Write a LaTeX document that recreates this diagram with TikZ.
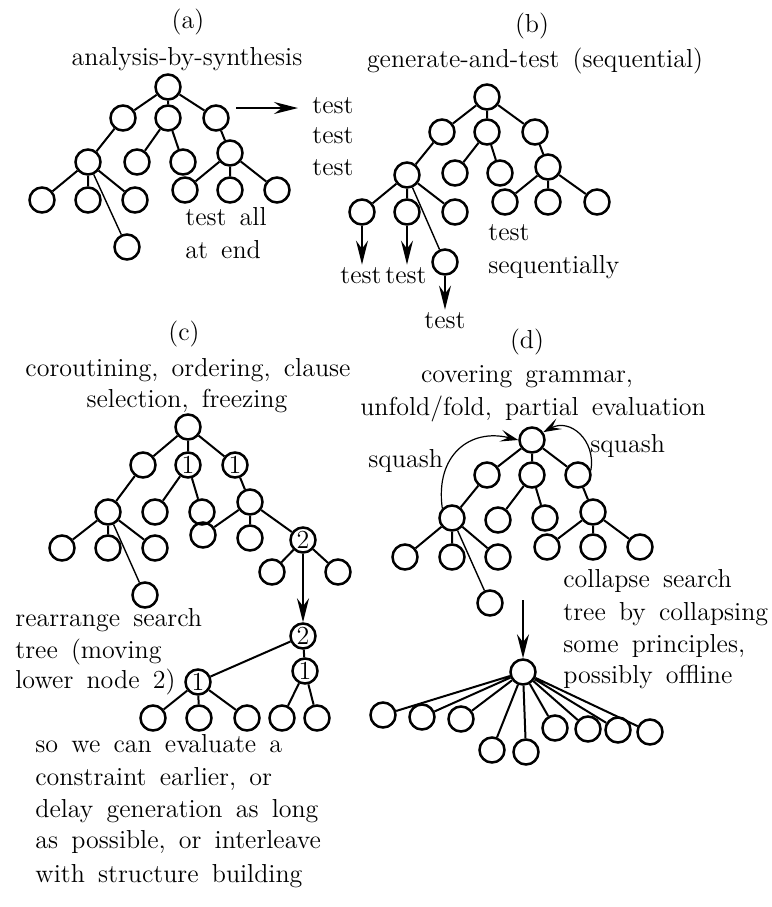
\documentclass[tikz,border=0pt]{standalone}
\usetikzlibrary{arrows.meta}
\begin{document}
\begin{tikzpicture}[x=0.5pt,y=-0.5pt,
  font={\fontsize{13}{16}\selectfont\spaceskip=6.6pt plus 1pt\relax},
  nd/.style={circle,draw,line width=1.25pt,minimum size=12.5pt,inner sep=0pt},
  ed/.style={line width=1pt},
  thinedge/.style={line width=0.7pt},
  arr/.style={line width=1pt,-{Stealth[length=12pt,width=6pt,inset=4pt]}},
  sqarr/.style={line width=0.6pt,-{Stealth[length=9pt,width=6pt,inset=4pt]}},
  lbl/.style={inner sep=0pt,anchor=base},
  lblw/.style={inner sep=0pt,anchor=base west}]
\useasboundingbox (0,0) rectangle (772,907);

% ---------------- (a) ----------------
\node[lbl] (la) at (188,28) {(a)};
\node[lbl] (ta) at (187,65) {analysis-by-synthesis};
\node[nd] (a0) at (168,87) {};
\node[nd] (a1) at (123,118) {};
\node[nd] (a2) at (168,118) {};
\node[nd] (a3) at (216,118) {};
\node[nd] (a11) at (88,162) {};
\node[nd] (a21) at (137,162) {};
\node[nd] (a22) at (183,162) {};
\node[nd] (a31) at (230,153) {};
\node[nd] (a111) at (42,200) {};
\node[nd] (a112) at (88,200) {};
\node[nd] (a113) at (135,200) {};
\node[nd] (a114) at (127,247) {};
\node[nd] (a311) at (185,190) {};
\node[nd] (a312) at (230,190) {};
\node[nd] (a313) at (277,190) {};
\draw[ed] (a0)--(a1) (a0)--(a2) (a0)--(a3) (a1)--(a11) (a2)--(a21) (a2)--(a22)
  (a3)--(a31) (a11)--(a111) (a11)--(a112) (a11)--(a113)
  (a31)--(a311) (a31)--(a312) (a31)--(a313);
\draw[thinedge] (a11)--(a114);
\coordinate (aS) at (236,108);
\coordinate (aE) at (298,108);
\draw[arr] (aS)--(aE);
\node[lblw] (at1) at (312,113) {test};
\node[lblw] (at2) at (312,143) {test};
\node[lblw] (at3) at (312,175) {test};
\node[lblw] (at4) at (185,225) {test all};
\node[lblw] (at5) at (185,258) {at end};

% ---------------- (b) ----------------
\node[lbl] (lb) at (532,32) {(b)};
\node[lbl] (tb) at (535,67) {generate-and-test (sequential)};
\node[nd] (b0) at (487,97) {};
\node[nd] (b1) at (442,132) {};
\node[nd] (b2) at (487,132) {};
\node[nd] (b3) at (535,132) {};
\node[nd] (b11) at (407,175) {};
\node[nd] (b21) at (455,173) {};
\node[nd] (b22) at (500,173) {};
\node[nd] (b31) at (548,167) {};
\node[nd] (b111) at (362,212) {};
\node[nd] (b112) at (407,212) {};
\node[nd] (b113) at (455,212) {};
\node[nd] (b114) at (445,262) {};
\node[nd] (b311) at (505,202) {};
\node[nd] (b312) at (548,202) {};
\node[nd] (b313) at (597,202) {};
\draw[ed] (b0)--(b1) (b0)--(b2) (b0)--(b3) (b1)--(b11) (b2)--(b21) (b2)--(b22)
  (b3)--(b31) (b11)--(b111) (b11)--(b112) (b11)--(b113)
  (b31)--(b311) (b31)--(b312) (b31)--(b313);
\draw[thinedge] (b11)--(b114);
\node[lbl,inner sep=1pt] (bt1) at (361,283) {test};
\node[lbl,inner sep=1pt] (bt2) at (406,283) {test};
\node[lbl,inner sep=1pt] (bt3) at (445,328) {test};
\draw[arr] (b111)--(b111 |- bt1.north);
\draw[arr] (b112)--(b112 |- bt2.north);
\draw[arr] (b114)--(b114 |- bt3.north);
\node[lblw] (bt4) at (488,240) {test};
\node[lblw] (bt5) at (488,273) {sequentially};

% ---------------- (c) ----------------
\node[lbl] (lc) at (184,340) {(c)};
\node[lbl] (tc1) at (188,376) {coroutining, ordering, clause};
\node[lbl] (tc2) at (187,407) {selection, freezing};
\node[nd] (c0) at (188,427) {};
\node[nd] (c1) at (143,465) {};
\node[nd] (c2) at (188,465) {1};
\node[nd] (c3) at (235,465) {1};
\node[nd] (c11) at (108,512) {};
\node[nd] (c21) at (155,512) {};
\node[nd] (c22) at (202,512) {};
\node[nd] (c31) at (250,502) {};
\node[nd] (c111) at (62,548) {};
\node[nd] (c112) at (108,548) {};
\node[nd] (c113) at (155,548) {};
\node[nd] (c114) at (145,595) {};
\node[nd] (c311) at (203,535) {};
\node[nd] (c312) at (250,538) {};
\node[nd] (c313) at (303,540) {2};
\node[nd] (c3131) at (272,572) {};
\node[nd] (c3132) at (338,572) {};
\draw[ed] (c0)--(c1) (c0)--(c2) (c0)--(c3) (c1)--(c11) (c2)--(c21) (c2)--(c22)
  (c3)--(c31) (c11)--(c111) (c11)--(c112) (c11)--(c113)
  (c31)--(c311) (c31)--(c312) (c31)--(c313) (c313)--(c3131) (c313)--(c3132);
\draw[thinedge] (c11)--(c114);
\node[nd] (e0) at (303,636) {2};
\node[nd] (e1) at (305,671) {1};
\node[nd] (e2) at (198,682) {1};
\node[nd] (e21) at (153,718) {};
\node[nd] (e22) at (199,718) {};
\node[nd] (e23) at (247,718) {};
\node[nd] (e11) at (282,718) {};
\node[nd] (e12) at (317,718) {};
\draw[arr] (c313)--(e0);
\draw[ed] (e0)--(e2) (e0)--(e1) (e2)--(e21) (e2)--(e22) (e2)--(e23) (e1)--(e11) (e1)--(e12);
\node[lblw] (tc3) at (15,626) {rearrange search};
\node[lblw] (tc4) at (15,658) {tree (moving};
\node[lblw] (tc5) at (15,688) {lower node 2)};
\node[lblw] (tc6) at (35,752) {so we can evaluate a};
\node[lblw] (tc7) at (35,785) {constraint earlier, or};
\node[lblw] (tc8) at (35,817) {delay generation as long};
\node[lblw] (tc9) at (35,848) {as possible, or interleave};
\node[lblw] (tc10) at (35,882) {with structure building};

% ---------------- (d) ----------------
\node[lbl] (ld) at (527,348) {(d)};
\node[lbl] (td1) at (527,382) {covering grammar,};
\node[lbl] (td2) at (533,415) {unfold/fold, partial evaluation};
\node[nd] (d0) at (532,440) {};
\node[nd] (d1) at (487,475) {};
\node[nd] (d2) at (532,475) {};
\node[nd] (d3) at (578,475) {};
\node[nd] (d11) at (452,518) {};
\node[nd] (d21) at (498,520) {};
\node[nd] (d22) at (545,518) {};
\node[nd] (d31) at (593,512) {};
\node[nd] (d111) at (405,557) {};
\node[nd] (d112) at (452,557) {};
\node[nd] (d113) at (498,557) {};
\node[nd] (d114) at (490,603) {};
\node[nd] (d311) at (547,547) {};
\node[nd] (d312) at (593,547) {};
\node[nd] (d313) at (640,547) {};
\draw[ed] (d0)--(d1) (d0)--(d2) (d0)--(d3) (d1)--(d11) (d2)--(d21) (d2)--(d22)
  (d3)--(d31) (d11)--(d111) (d11)--(d112) (d11)--(d113)
  (d31)--(d311) (d31)--(d312) (d31)--(d313);
\draw[thinedge] (d11)--(d114);
\draw[sqarr] (d11.135) .. controls (435,455) and (470,428) .. (d0.west);
\draw[sqarr] (d3.20) .. controls (596,440) and (570,418) .. (d0.35);
\node[lblw] (sq1) at (368,467) {squash};
\node[lblw] (sq2) at (590,452) {squash};
\coordinate (fS) at (523,600);
\node[nd] (f0) at (523,672) {};
\draw[arr] (fS)--(f0);
\node[nd] (f1) at (383,715) {};
\node[nd] (f2) at (422,717) {};
\node[nd] (f3) at (461,719) {};
\node[nd] (f4) at (492,750) {};
\node[nd] (f5) at (526,752) {};
\node[nd] (f6) at (555,728) {};
\node[nd] (f7) at (588,729) {};
\node[nd] (f8) at (618,730) {};
\node[nd] (f9) at (650,732) {};
\draw[ed] (f0)--(f1) (f0)--(f2) (f0)--(f3) (f0)--(f4) (f0)--(f5)
  (f0)--(f6) (f0)--(f7) (f0)--(f8) (f0)--(f9);
\node[lblw] (td3) at (563,587) {collapse search};
\node[lblw] (td4) at (563,620) {tree by collapsing};
\node[lblw] (td5) at (563,652) {some principles,};
\node[lblw] (td6) at (563,683) {possibly offline};
\end{tikzpicture}
\end{document}
